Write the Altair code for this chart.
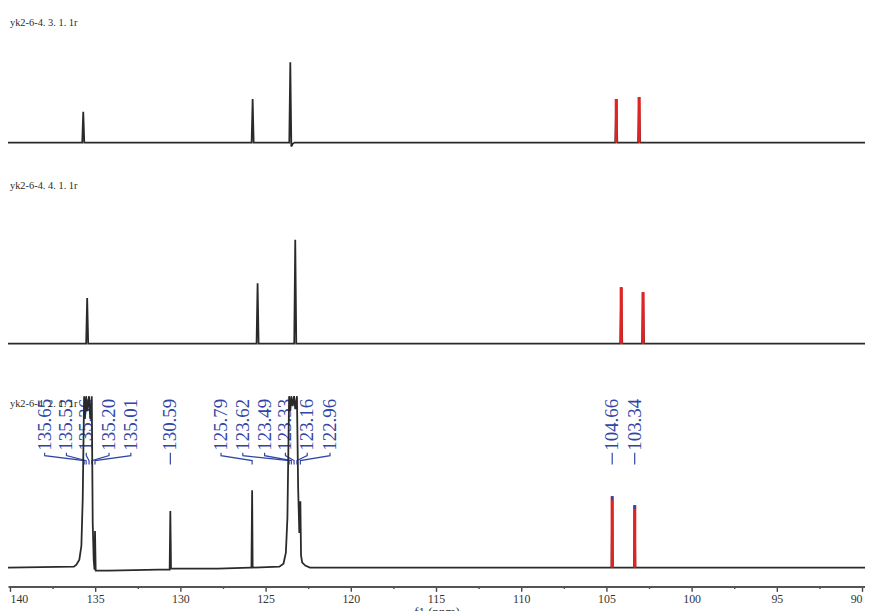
import altair as alt
import pandas as pd

# ---------------- axis ----------------
X_DOMAIN = [140.116, 89.826]
TICK_VALUES = [140, 137.5, 135, 132.5, 130, 127.5, 125, 122.5, 120, 117.5, 115,
               112.5, 110, 107.5, 105, 102.5, 100, 97.5, 95, 92.5, 90]
AXIS_TITLE = "f1 (ppm)"

# ---------------- traces (ppm, intensity) ----------------
TRACE_NAMES = ["yk2-6-4. 3. 1. 1r", "yk2-6-4. 4. 1. 1r", "yk2-6-4. 2. 1. 1r"]
NAME_PPM = 140.0
NAME_LEVEL = [121, 159, 165]
Y_DOMAINS = [[-448, 133], [-245, 336], [-19, 562]]

T1_PPM = [140.12, 135.76, 135.70, 135.64, 125.82, 125.76, 125.70, 123.61, 123.55,
          123.49, 123.40, 123.30, 104.48, 104.42, 104.36, 103.14, 103.08, 103.02, 89.82]
T1_INT = [0, 0, 31, 0, 0, 44, 0, 0, 81, -4, -1, 0, 0, 44, 0, 0, 46, 0, 0]
T1_RED_PPM = [104.42, 103.08]
T1_RED_INT = [44, 46]

T2_PPM = [140.12, 135.53, 135.47, 135.41, 125.53, 125.47, 125.41, 123.32, 123.26,
          123.20, 104.19, 104.13, 104.07, 102.91, 102.85, 102.79, 89.82]
T2_INT = [0, 0, 46, 0, 0, 61, 0, 0, 105, 0, 0, 57, 0, 0, 52, 0, 0]
T2_RED_PPM = [104.13, 102.85]
T2_RED_INT = [57, 52]

T3_PPM = [140.12, 136.25, 136.10, 135.93, 135.81, 135.73, 135.65, 135.60, 135.53, 135.465,
          135.36, 135.29, 135.20, 135.145, 135.087, 135.04, 135.01, 134.97, 134.19,
          131.28, 130.63, 130.59, 130.55, 127.8, 125.9, 125.83, 125.79, 125.76,
          124.19, 123.95, 123.81, 123.72, 123.62, 123.55, 123.49, 123.41, 123.33,
          123.26, 123.16, 123.09, 123.02, 122.96, 122.92, 122.85, 122.67, 122.4,
          104.70, 104.66, 104.62, 103.38, 103.34, 103.30, 89.82]
T3_INT = [0, 1, 3, 8, 22, 70, 173, 150, 173, 158,
          173, 150, 173, 45, 8, -2, 37, -3, -3,
          -2, -2, 57, -1, -1, 0, 0, 78, 0,
          1, 4, 15, 50, 173, 158, 173, 163, 173,
          160, 173, 80, 35, 67, 12, 5, 2, 0,
          0, 72, 0, 0, 63, 0, 0]
T3_RED_PPM = [104.66, 103.34]
T3_RED_INT = [72, 63]

# ---------------- peak labels (bottom trace) ----------------
PEAK_LABELS = ["135.65", "135.53", "135.36", "135.20", "135.01", "130.59", "125.79",
               "123.62", "123.49", "123.33", "123.16", "122.96", "104.66", "103.34"]
LABEL_POS = [137.965, 136.686, 135.523, 134.186, 132.907, 130.59, 127.616,
             126.337, 125.058, 123.837, 122.558, 121.221, 104.66, 103.34]
LABEL_LEVEL = 118
BRACKET_LEVELS = [116, 113, 108, 104]

INK = "#2a2a2a"
RED = "#e02424"
BLUE = "#2f46a6"
SERIF = "Liberation Serif"

AXIS = alt.Axis(
    values=TICK_VALUES,
    labelExpr="datum.value % 5 === 0 ? datum.label : ''",
    labelFlush=6,
    tickSize={"condition": {"test": "datum.value % 5 === 0", "value": 5}, "value": 2},
    tickWidth=1.4, tickColor="#444",
    domainColor="#555", domainWidth=2,
    labelFont=SERIF, labelFontSize=12, labelColor="#333", labelPadding=2,
    grid=False,
    title=AXIS_TITLE, titleFont=SERIF, titleFontSize=13, titleFontWeight="normal",
    titleColor="#333", titleY=19, titleBaseline="top",
)


def xenc(field):
    return alt.X(f"{field}:Q", scale=alt.Scale(domain=X_DOMAIN, nice=False, zero=False), axis=AXIS)


def yenc(field, k):
    return alt.Y(f"{field}:Q", scale=alt.Scale(domain=Y_DOMAINS[k], nice=False, zero=False), axis=None)


def trace_group(k, ppm, inten, red_ppm, red_int, extra_before=(), tips=False):
    df = pd.DataFrame({"ppm": ppm, "int": inten})
    red = pd.DataFrame({"ppm": red_ppm, "base": [0] * len(red_ppm), "top": red_int,
                        "tip": [v - 4 for v in red_int]})
    name = pd.DataFrame({"ppm": [NAME_PPM], "lvl": [NAME_LEVEL[k]], "name": [TRACE_NAMES[k]]})
    layers = list(extra_before)
    layers.append(
        alt.Chart(name).mark_text(align="left", baseline="middle", font=SERIF,
                                  fontSize=10.5, color=INK)
        .encode(x=xenc("ppm"), y=yenc("lvl", k), text="name:N")
    )
    layers.append(
        alt.Chart(df).mark_line(color=INK, strokeWidth=1.8)
        .encode(x=xenc("ppm"), y=yenc("int", k))
    )
    layers.append(
        alt.Chart(red).mark_rule(color=RED, strokeWidth=3.2)
        .encode(x=xenc("ppm"), y=yenc("base", k), y2="top:Q")
    )
    if tips:
        layers.append(
            alt.Chart(red).mark_rule(color=BLUE, strokeWidth=2)
            .encode(x=xenc("ppm"), y=yenc("tip", k), y2="top:Q")
        )
    return alt.layer(*layers)


# bottom-trace annotations
lab_df = pd.DataFrame({"pos": LABEL_POS, "lvl": [LABEL_LEVEL] * len(PEAK_LABELS),
                       "text": PEAK_LABELS})
rows = []
for lab, pos in zip(PEAK_LABELS, LABEL_POS):
    peak = float(lab)
    xs = [pos, pos, peak, peak]
    for o, (xv, lv) in enumerate(zip(xs, BRACKET_LEVELS)):
        rows.append({"ppm": xv, "lvl": lv, "label": lab, "order": o})
br_df = pd.DataFrame(rows)

labels_layer = alt.Chart(lab_df).mark_text(
    angle=270, align="left", baseline="middle", font=SERIF, fontSize=19, color=BLUE
).encode(x=xenc("pos"), y=yenc("lvl", 2), text="text:N")

brackets_layer = alt.Chart(br_df).mark_line(color=BLUE, strokeWidth=1.2).encode(
    x=xenc("ppm"), y=yenc("lvl", 2), detail="label:N", order="order:Q"
)

g1 = trace_group(0, T1_PPM, T1_INT, T1_RED_PPM, T1_RED_INT)
g2 = trace_group(1, T2_PPM, T2_INT, T2_RED_PPM, T2_RED_INT)
g3 = trace_group(2, T3_PPM, T3_INT, T3_RED_PPM, T3_RED_INT,
                 extra_before=(labels_layer, brackets_layer), tips=True)

chart = alt.layer(g1, g2, g3).resolve_scale(y="independent").properties(
    width=865, height=581,
    autosize=alt.AutoSizeParams(type="none"),
    padding={"left": 0, "top": 0, "right": 0, "bottom": 22},
    background="white",
).configure_view(stroke=None)

chart.save("out.html", embed_options={"renderer": "svg", "actions": False})
